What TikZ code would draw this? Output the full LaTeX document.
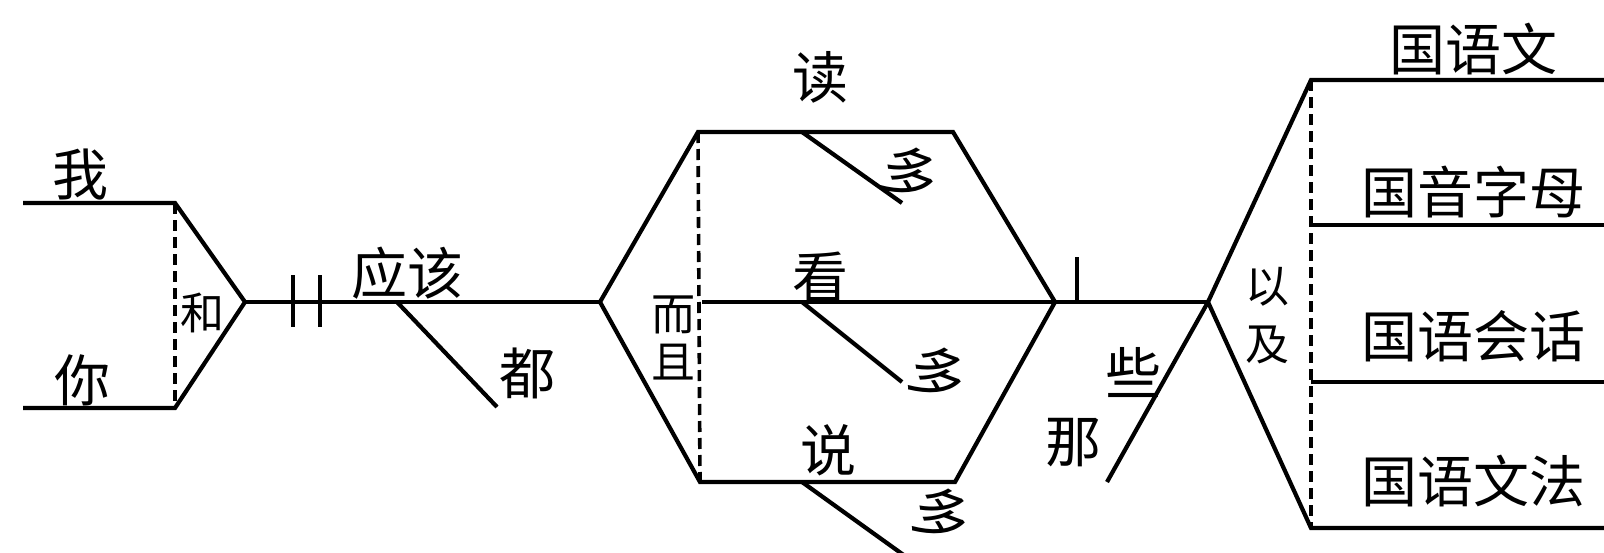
\documentclass[tikz,border=0pt]{standalone}
\usepackage{fontspec}
\newfontfamily\cjk{Noto Sans CJK SC}
\begin{document}
\begin{tikzpicture}[x=1pt,y=-1pt,
  ln/.style={line width=4.2pt, line join=miter, line cap=butt},
  dsh/.style={line width=3.6pt, dash pattern=on 11pt off 6pt},
  big/.style={font=\cjk\fontsize{56}{58}\selectfont, inner sep=0pt},
  small/.style={font=\cjk\fontsize{44}{46}\selectfont, inner sep=0pt}]
\useasboundingbox (0,0) rectangle (1604,552);
\fill[white] (0,0) rectangle (1604,552);
% coordinates
\coordinate (wL) at (23,203);   \coordinate (wR) at (175,203);
\coordinate (nL) at (23,408);   \coordinate (nR) at (175,408);
\coordinate (apex) at (245,302);
\coordinate (t1a) at (293,275); \coordinate (t1b) at (293,327);
\coordinate (t2a) at (320,275); \coordinate (t2b) at (320,327);
\coordinate (d0) at (397,302);  \coordinate (d1) at (497,407);
\coordinate (hL) at (600,302);
\coordinate (hTL) at (698,132); \coordinate (hTR) at (953,132);
\coordinate (hBL) at (700,482); \coordinate (hBR) at (955,482);
\coordinate (hM) at (702,302);  \coordinate (hR) at (1055,302);
\coordinate (m1a) at (802,132); \coordinate (m1b) at (902,203);
\coordinate (m2a) at (802,302); \coordinate (m2b) at (902,382);
\coordinate (m3a) at (802,482); \coordinate (m3b) at (905,556);
\coordinate (tk0) at (1077,302);\coordinate (tk1) at (1077,257);
\coordinate (j) at (1208,302);
\coordinate (nx) at (1107,482);
\coordinate (rT) at (1311,80);  \coordinate (rB) at (1311,528);
\coordinate (r2) at (1311,225); \coordinate (r3) at (1311,382);
\coordinate (eT) at (1610,80);  \coordinate (eB) at (1610,528);
\coordinate (e2) at (1610,225); \coordinate (e3) at (1610,382);
% lines
\draw[ln] (wL) -- (wR) -- (apex) -- (nR) -- (nL);
\draw[dsh] (wR) -- (nR);
\draw[ln] (apex) -- (hL);
\draw[ln] (t1a) -- (t1b);
\draw[ln] (t2a) -- (t2b);
\draw[ln] (d0) -- (d1);
\draw[ln] (hL) -- (hTL) -- (hTR) -- (hR) -- (hBR) -- (hBL) -- cycle;
\draw[ln] (hM) -- (hR);
\draw[dsh] (hTL) -- (hBL);
\draw[ln] (m1a) -- (m1b);
\draw[ln] (m2a) -- (m2b);
\draw[ln] (m3a) -- (m3b);
\draw[ln] (hR) -- (j);
\draw[ln] (tk0) -- (tk1);
\draw[ln] (eT) -- (rT) -- (j) -- (rB) -- (eB);
\draw[ln] (j) -- (nx);
\draw[ln] (r2) -- (e2);
\draw[ln] (r3) -- (e3);
\draw[dsh] (rT) -- (rB);
% texts
\node[big] (wo) at (80,175) {我};
\node[big] (ni) at (82,380) {你};
\node[small] (he) at (202,313) {和};
\node[big] (yg) at (407,273) {应该};
\node[big] (dou) at (527,373) {都};
\node[big] (du) at (820,77) {读};
\node[big,rotate=-20] (duo1) at (910,173) {多};
\node[big] (kan) at (820,277) {看};
\node[big,rotate=-20] (duo2) at (938,373) {多};
\node[big] (shuo) at (828,450) {说};
\node[big,rotate=-20] (duo3) at (942,514) {多};
\node[small] (er) at (673,315) {而};
\node[small] (qie) at (673,362) {且};
\node[big] (xie) at (1133,373) {些};
\node[big] (na) at (1073,443) {那};
\node[small] (yi) at (1267,287) {以};
\node[small] (ji) at (1267,345) {及};
\node[big] (g1) at (1473,49) {国语文};
\node[big] (g2) at (1473,192) {国音字母};
\node[big] (g3) at (1473,336) {国语会话};
\node[big] (g4) at (1473,481) {国语文法};
\end{tikzpicture}
\end{document}
